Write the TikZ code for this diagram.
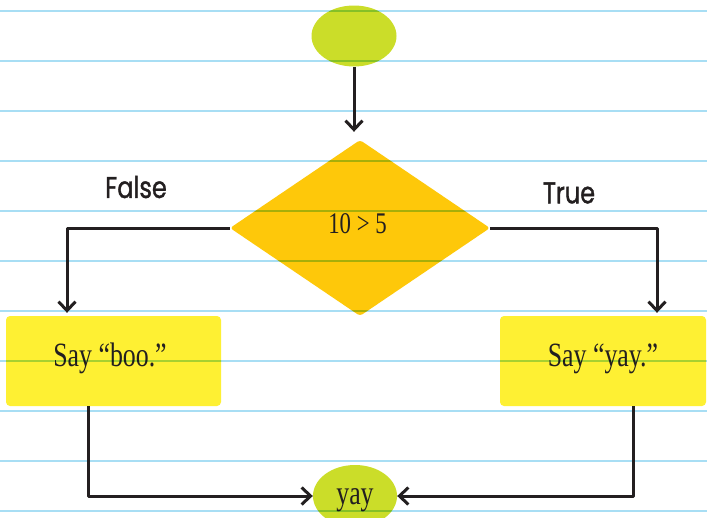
\documentclass[tikz,border=0pt]{standalone}
\usepackage{fontspec}
\setmainfont{Liberation Serif}
\newfontfamily\boxfont{Liberation Serif}[FakeStretch=0.76]
\newfontfamily\handfont{Poppins}[FakeStretch=0.8,FakeBold=1.2]
\usetikzlibrary{shapes.geometric,arrows.meta}
\definecolor{lineblue}{RGB}{168,222,244}
\definecolor{ovalgreen}{RGB}{203,221,41}
\definecolor{diagold}{RGB}{254,200,10}
\definecolor{boxyellow}{RGB}{254,240,51}
\definecolor{ink}{RGB}{35,31,32}
\tikzset{
  oval/.style={ellipse, fill=ovalgreen, inner sep=0pt, font=\boxfont\fontsize{34}{36}\selectfont, text=ink, text height=18pt, text depth=2pt},
  decision/.style={diamond, fill=diagold, inner sep=0pt, minimum width=260pt, minimum height=176pt, rounded corners=3pt, font=\boxfont\fontsize{30}{32}\selectfont, text=ink, text height=17pt, text depth=7pt},
  saybox/.style={rectangle, fill=boxyellow, rounded corners=4pt, minimum height=90pt, inner sep=0pt, font=\boxfont\fontsize{34}{36}\selectfont, text=ink, text height=18pt, text depth=8pt},
  lbl/.style={font=\handfont\fontsize{30}{32}\selectfont, text=ink, inner sep=0pt},
  conn/.style={draw=ink, line width=3pt, line join=round, -{Straight Barb[length=9pt,width=17pt,line width=3pt]}},
  ruled/.style={draw=lineblue, line width=2pt}
}
\begin{document}
\begin{tikzpicture}[x=1pt,y=-1pt]
\useasboundingbox (0,0) rectangle (707,517);
\clip (0,0) rectangle (707,517);
\fill[white] (0,0) rectangle (707,517);
\node[oval, minimum width=85pt, minimum height=61pt] (start) at (354,36) {};
\node[decision] (dec) at (360,228) {\hspace*{-5pt}10 > 5};
\node[saybox, minimum width=215pt] (boo) at (113.5,361) {\hspace*{-7pt}Say “boo.”};
\node[saybox, minimum width=206pt] (yay) at (603,361) {Say “yay.”};
\node[oval, minimum width=84pt, minimum height=62pt] (end) at (355,496) {yay};
\node[lbl] (f) at (136,187) {False};
\node[lbl] (t) at (569,193) {True};
\begin{scope}[blend mode=multiply]
\foreach \yy in {11,61,...,511} \draw[ruled] (0,\yy) -- (707,\yy);
\end{scope}
\coordinate (starttip) at (start.south |- dec.north);
\draw[conn, shorten >=8pt] (start.south) -- (starttip);
\draw[conn, shorten >=3pt] (dec.west) -| ([xshift=-46.5pt]boo.north);
\draw[conn, shorten >=3pt] (dec.east) -| ([xshift=54pt]yay.north);
\draw[conn] ([xshift=-25.5pt]boo.south) |- (end.west);
\draw[conn] ([xshift=30pt]yay.south) |- (end.east);
\end{tikzpicture}
\end{document}
